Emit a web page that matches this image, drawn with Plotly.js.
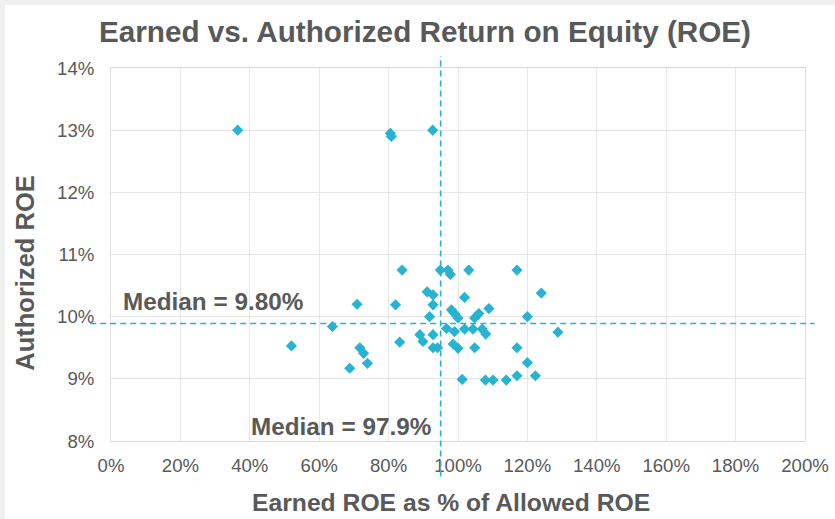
<!DOCTYPE html>
<html>
<head>
<meta charset="utf-8">
<script src="https://cdn.plot.ly/plotly-3.0.1.min.js"></script>
<style>
  html, body { margin: 0; padding: 0; background: #f0f0f0; width: 835px; height: 519px; overflow: hidden; }
  #chart { position: absolute; left: 5px; top: 5px; width: 830px; height: 514px; background: #ffffff; }
</style>
</head>
<body>
<div id="chart"></div>
<script>
// Earned ROE as % of allowed ROE (x) and authorized ROE in % (y)
const earnedPct = [36.5, 80.5, 80.8, 92.7, 83.9, 94.9, 97.1, 97.8, 103.1, 117.0,
  91.1, 92.8, 124.0, 101.9, 70.9, 82.0, 92.8, 98.1, 99.0, 100.0,
  108.9, 106.0, 104.8, 91.8, 120.0, 63.8, 96.7, 99.0, 101.9, 104.3,
  107.0, 108.0, 128.8, 89.0, 92.8, 89.9, 83.2, 92.8, 94.1, 98.6,
  100.0, 104.8, 117.0, 52.0, 71.7, 72.8, 73.9, 68.8, 120.0, 101.2,
  107.9, 110.1, 113.9, 117.0, 122.3];
const authorizedRoe = [13.00, 12.95, 12.90, 13.00, 10.75, 10.75, 10.75, 10.68, 10.75, 10.75,
  10.40, 10.35, 10.38, 10.31, 10.20, 10.19, 10.19, 10.11, 10.05, 9.98,
  10.13, 10.05, 9.98, 10.00, 10.00, 9.84, 9.81, 9.76, 9.80, 9.80,
  9.80, 9.72, 9.75, 9.71, 9.71, 9.60, 9.59, 9.50, 9.50, 9.56,
  9.49, 9.50, 9.50, 9.53, 9.50, 9.41, 9.25, 9.17, 9.26, 8.99,
  8.98, 8.98, 8.98, 9.05, 9.05];

// Median reference lines (as drawn) and their labels
const medianEarned = 95.0;
const medianAuthorized = 9.89;
const medianEarnedLabel = "Median = 97.9%";
const medianAuthorizedLabel = "Median = 9.80%";

const titleText = "Earned vs. Authorized Return on Equity (ROE)";
const xTitleText = "Earned ROE as % of Allowed ROE";
const yTitleText = "Authorized ROE";

const teal = "#27b3d1";
const textGray = "#595959";
const FONT = "Liberation Sans, Arial, sans-serif";

const trace = {
  type: "scatter",
  mode: "markers",
  x: earnedPct,
  y: authorizedRoe,
  marker: { symbol: "diamond", size: 8.6, color: teal, line: { width: 0 } },
  hoverinfo: "x+y",
  showlegend: false
};

const layout = {
  width: 830,
  height: 514,
  paper_bgcolor: "#ffffff",
  plot_bgcolor: "#ffffff",
  margin: { l: 106, r: 30, t: 63, b: 78, pad: 0 },
  title: {
    text: titleText,
    font: { family: FONT, size: 29.7, color: textGray, weight: "bold" },
    xref: "container", x: 0.506, xanchor: "center",
    yref: "container", y: 0.948, yanchor: "middle"
  },
  xaxis: {
    range: [0, 200], dtick: 20, tick0: 0, ticksuffix: "%",
    showgrid: true, gridcolor: "#e6e6e6", gridwidth: 1,
    showline: true, linecolor: "#d9d9d9", linewidth: 1, mirror: true,
    zeroline: false,
    ticks: "outside", ticklen: 8, tickcolor: "rgba(0,0,0,0)",
    tickfont: { family: FONT, size: 18.6, color: textGray },
    fixedrange: true
  },
  yaxis: {
    range: [8, 14], dtick: 1, tick0: 8, ticksuffix: "%",
    showgrid: true, gridcolor: "#e6e6e6", gridwidth: 1,
    showline: true, linecolor: "#e0e0e0", linewidth: 1, mirror: true,
    zeroline: false,
    ticks: "outside", ticklen: 12, tickcolor: "rgba(0,0,0,0)",
    tickfont: { family: FONT, size: 18.6, color: textGray },
    fixedrange: true
  },
  shapes: [
    { type: "line", xref: "x", yref: "paper", x0: medianEarned, x1: medianEarned, y0: -0.095, y1: 1.032,
      line: { color: teal, width: 1.6, dash: "6px,4px" }, layer: "above" },
    { type: "line", xref: "paper", yref: "y", x0: -0.030, x1: 1.014, y0: medianAuthorized, y1: medianAuthorized,
      line: { color: teal, width: 1.6, dash: "6px,4px" }, layer: "above" }
  ],
  annotations: [
    { text: medianAuthorizedLabel, xref: "x", yref: "y", x: 2.9, y: 10.25, xanchor: "left", yanchor: "middle",
      showarrow: false, font: { family: FONT, size: 24.3, color: textGray, weight: "bold" } },
    { text: medianEarnedLabel, xref: "x", yref: "y", x: 92.7, y: 8.227, xanchor: "right", yanchor: "middle",
      showarrow: false, font: { family: FONT, size: 24.3, color: textGray, weight: "bold" } },
    { text: xTitleText, xref: "paper", yref: "paper", x: 0.4897, y: -0.165, xanchor: "center", yanchor: "middle",
      showarrow: false, font: { family: FONT, size: 24.7, color: textGray, weight: "bold" } },
    { text: yTitleText, xref: "paper", yref: "paper", x: -0.124, y: 0.451, xanchor: "center", yanchor: "middle",
      textangle: -90, showarrow: false, font: { family: FONT, size: 25.5, color: textGray, weight: "bold" } }
  ]
};

Plotly.newPlot("chart", [trace], layout, { staticPlot: true, displayModeBar: false });
</script>
</body>
</html>
